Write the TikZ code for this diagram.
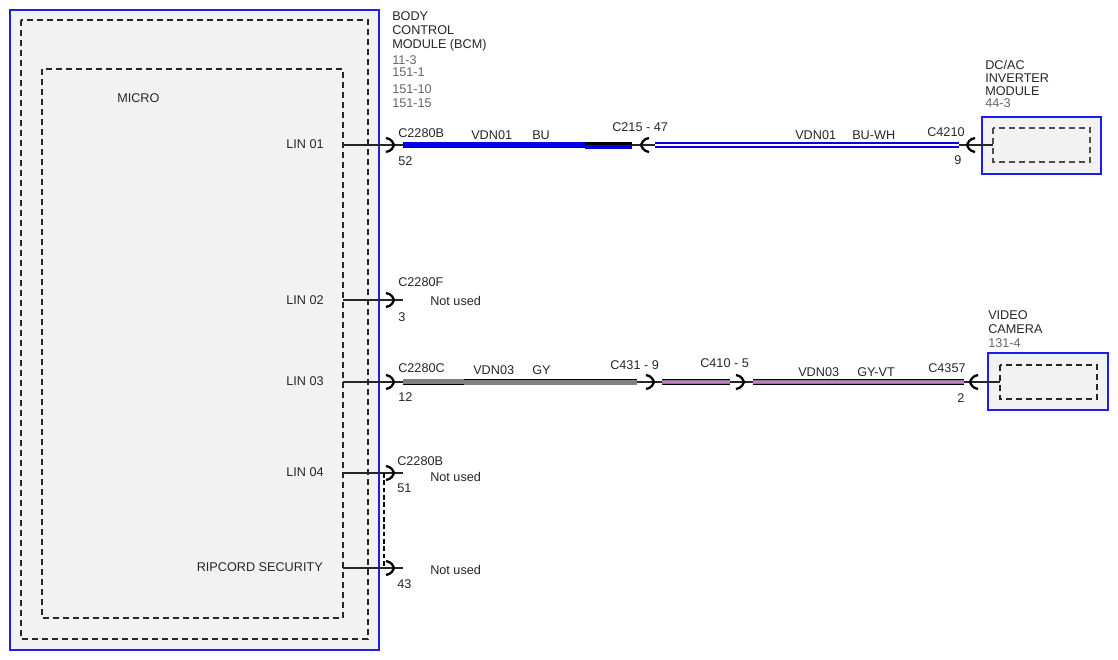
\documentclass[tikz,border=0pt]{standalone}
\usepackage{fontspec}
\setmainfont{Liberation Sans}
\usetikzlibrary{calc}
\definecolor{modblue}{RGB}{30,30,235}
\definecolor{modfill}{RGB}{242,242,242}
\definecolor{wireBU}{RGB}{0,0,230}
\definecolor{wireGY}{RGB}{128,128,128}
\definecolor{wireVT}{RGB}{200,125,200}
\def\plugR(#1){\draw[plug] ($(#1)+(-8,-7)$) .. controls ($(#1)+(-2,-6)$) and ($(#1)+(-1,-2)$) .. (#1) .. controls ($(#1)+(-1,2)$) and ($(#1)+(-2,6)$) .. ($(#1)+(-8,7)$)}
\def\plugL(#1){\draw[plug] ($(#1)+(8,-7)$) .. controls ($(#1)+(2,-6)$) and ($(#1)+(1,-2)$) .. (#1) .. controls ($(#1)+(1,2)$) and ($(#1)+(2,6)$) .. ($(#1)+(8,7)$)}

\begin{document}
\begin{tikzpicture}[x=0.75pt, y=-0.75pt,
		lbl/.style={inner sep=0pt, anchor=base west, font=\fontsize{9.5}{10}\selectfont, text=black!85},
		num/.style={lbl, text=black!60},
		dashbox/.style={dash pattern=on 4.5pt off 3pt, line width=1.3pt, draw=black!85},
		plug/.style={line width=1.7pt, black},
		pin/.style={line width=0.8pt, black!85}]
			%%%%% START %%%%%
			\useasboundingbox (0,0) rectangle (1118,660);
			
			% body control module
			\draw[modblue, line width=1pt, fill=modfill] (10,10) rectangle (379,650);
			\draw[dashbox] (21,20) rectangle (368,639);
			\draw[dashbox] (42,69) rectangle (343,618);
			
			\node[lbl] (micro) at (117,102.5) {MICRO};
			\node[lbl, anchor=base east] (lin01) at (324,148.5) {LIN 01};
			\node[lbl, anchor=base east] (lin02) at (324,304.5) {LIN 02};
			\node[lbl, anchor=base east] (lin03) at (324,385.5) {LIN 03};
			\node[lbl, anchor=base east] (lin04) at (324,476.5) {LIN 04};
			\node[lbl, anchor=base east] (ripcord) at (323,571.5) {RIPCORD SECURITY};
			
			\node[lbl] (bcm1) at (392,20.5) {BODY};
			\node[lbl] (bcm2) at (392,34.5) {CONTROL};
			\node[lbl] (bcm3) at (392,48.5) {MODULE (BCM)};
			\node[num] (bcm4) at (392,64.5) {11-3};
			\node[num] (bcm5) at (392,76.5) {151-1};
			\node[num] (bcm6) at (392,93.5) {151-10};
			\node[num] (bcm7) at (392,107.5) {151-15};
			
			% dc/ac inverter module
			\draw[modblue, line width=1pt, fill=modfill] (982,117) rectangle (1101,174);
			\draw[dashbox, line width=1pt, draw=black!70] (993,128) rectangle (1090,162);
			\node[lbl] (inv1) at (985,69.5) {DC/AC};
			\node[lbl] (inv2) at (985,83) {INVERTER};
			\node[lbl] (inv3) at (985,96) {MODULE};
			\node[num] (inv4) at (985,108) {44-3};
			
			% video camera
			\draw[modblue, line width=1pt, fill=modfill] (988,353) rectangle (1108,410);
			\draw[dashbox, line width=1pt] (1000,365) rectangle (1097,399);
			\node[lbl] (cam1) at (988,319.5) {VIDEO};
			\node[lbl] (cam2) at (988,333.5) {CAMERA};
			\node[num] (cam3) at (988,347.5) {131-4};
			
			% pins
			\coordinate (out01) at (343,145);
			\coordinate (out02) at (343,300);
			\coordinate (out03) at (343,382);
			\coordinate (out04) at (343,473);
			\coordinate (outrip) at (343,568);
			\coordinate (c2280b52) at (394,145);
			\coordinate (c2280f3) at (394,300);
			\coordinate (c2280c12) at (394,382);
			\coordinate (c2280b51) at (394,473);
			\coordinate (c2280b43) at (394,568);
			\coordinate (c215) at (641,145);
			\coordinate (c4210) at (967,145);
			\coordinate (inv) at (993,145);
			\coordinate (c431) at (654,382);
			\coordinate (c410) at (744,382);
			\coordinate (c4357) at (970,382);
			\coordinate (cam) at (1000,382);
			
			\draw[pin] (out01) -- (c2280b52) -- +(9,0);
			\draw[pin] (out02) -- (c2280f3) -- +(9,0);
			\draw[pin] (out03) -- (c2280c12) -- +(9,0);
			\draw[pin] (out04) -- (c2280b51) -- +(9,0);
			\draw[pin] (outrip) -- (c2280b43) -- +(9,0);
			\draw[pin] ($(c215)+(-9,0)$) -- (c215) -- +(14,0);
			\draw[pin] ($(c4210)+(-8,0)$) -- (c4210) -- (inv);
			\draw[pin] ($(c431)+(-17,0)$) -- (c431) -- +(8,0);
			\draw[pin] ($(c410)+(-14,0)$) -- (c410) -- +(9,0);
			\draw[pin] ($(c4357)+(-6,0)$) -- (c4357) -- (cam);
			
			\plugR(c2280b52);
			\plugR(c2280f3);
			\plugR(c2280c12);
			\plugR(c2280b51);
			\plugR(c2280b43);
			\plugL(c215);
			\plugL(c4210);
			\plugR(c431);
			\plugR(c410);
			\plugL(c4357);
			
			\draw[dash pattern=on 3.5pt off 2pt, line width=1.6pt] (384,473) -- (384,568);
			
			% wire VDN01
			\draw[black, line width=5pt] (403,145) -- (632,145);
			\draw[wireBU, line width=4pt] (403,144.3) -- (585,144.3);
			\draw[wireBU, line width=3pt] (585,146.5) -- (632,146.5);
			\draw[wireBU!80!black, line width=4.6pt] (655,145) -- (959,145);
			\draw[wireBU, line width=3.8pt] (655,145) -- (959,145);
			\draw[white, line width=1.6pt] (655,145) -- (959,145);
			
			% wire VDN03
			\draw[black, line width=4.6pt] (403,382) -- (637,382);
			\draw[wireGY, line width=3.6pt] (403,381.3) -- (464,381.3);
			\draw[wireGY, line width=3.6pt] (464,382.7) -- (637,382.7);
			\draw[black, line width=4.6pt] (662,382) -- (730,382);
			\draw[wireGY, line width=3.4pt] (662,382) -- (730,382);
			\draw[wireVT, line width=1.4pt] (662,382) -- (730,382);
			\draw[black, line width=4.6pt] (753,382) -- (964,382);
			\draw[wireGY, line width=3.4pt] (753,382) -- (964,382);
			\draw[wireVT, line width=1.4pt] (753,382) -- (964,382);
			
			% connector and wire labels
			\node[lbl] (c2280bA) at (398,137.5) {C2280B};
			\node[lbl] (pin52) at (398,165.5) {52};
			\node[lbl] (vdn01a) at (471,139.5) {VDN01};
			\node[lbl] (bu) at (532,139.5) {BU};
			\node[lbl] (c215lbl) at (612,131.5) {C215 - 47};
			\node[lbl] (vdn01b) at (795,139.5) {VDN01};
			\node[lbl] (buwh) at (852,139.5) {BU-WH};
			\node[lbl] (c4210lbl) at (927,136.5) {C4210};
			\node[lbl] (pin9) at (954,164.5) {9};
			
			\node[lbl] (c2280fA) at (398,286) {C2280F};
			\node[lbl] (nu02) at (430,305) {Not used};
			\node[lbl] (pin3) at (398,321) {3};
			
			\node[lbl] (c2280cA) at (398,372.5) {C2280C};
			\node[lbl] (pin12) at (398,401) {12};
			\node[lbl] (vdn03a) at (473,374.5) {VDN03};
			\node[lbl] (gy) at (532,374.5) {GY};
			\node[lbl] (c431lbl) at (610,369.5) {C431 - 9};
			\node[lbl] (c410lbl) at (700,367.5) {C410 - 5};
			\node[lbl] (vdn03b) at (798,376) {VDN03};
			\node[lbl] (gyvt) at (857,376) {GY-VT};
			\node[lbl] (c4357lbl) at (928,372.5) {C4357};
			\node[lbl] (pin2) at (957,402) {2};
			
			\node[lbl] (c2280bB) at (397,465.5) {C2280B};
			\node[lbl] (nu04) at (430,481.5) {Not used};
			\node[lbl] (pin51) at (397,492.5) {51};
			\node[lbl] (nurip) at (430,574.5) {Not used};
			\node[lbl] (pin43) at (397,588.5) {43};
			%%%%% END %%%%%
\end{tikzpicture}
\end{document}
